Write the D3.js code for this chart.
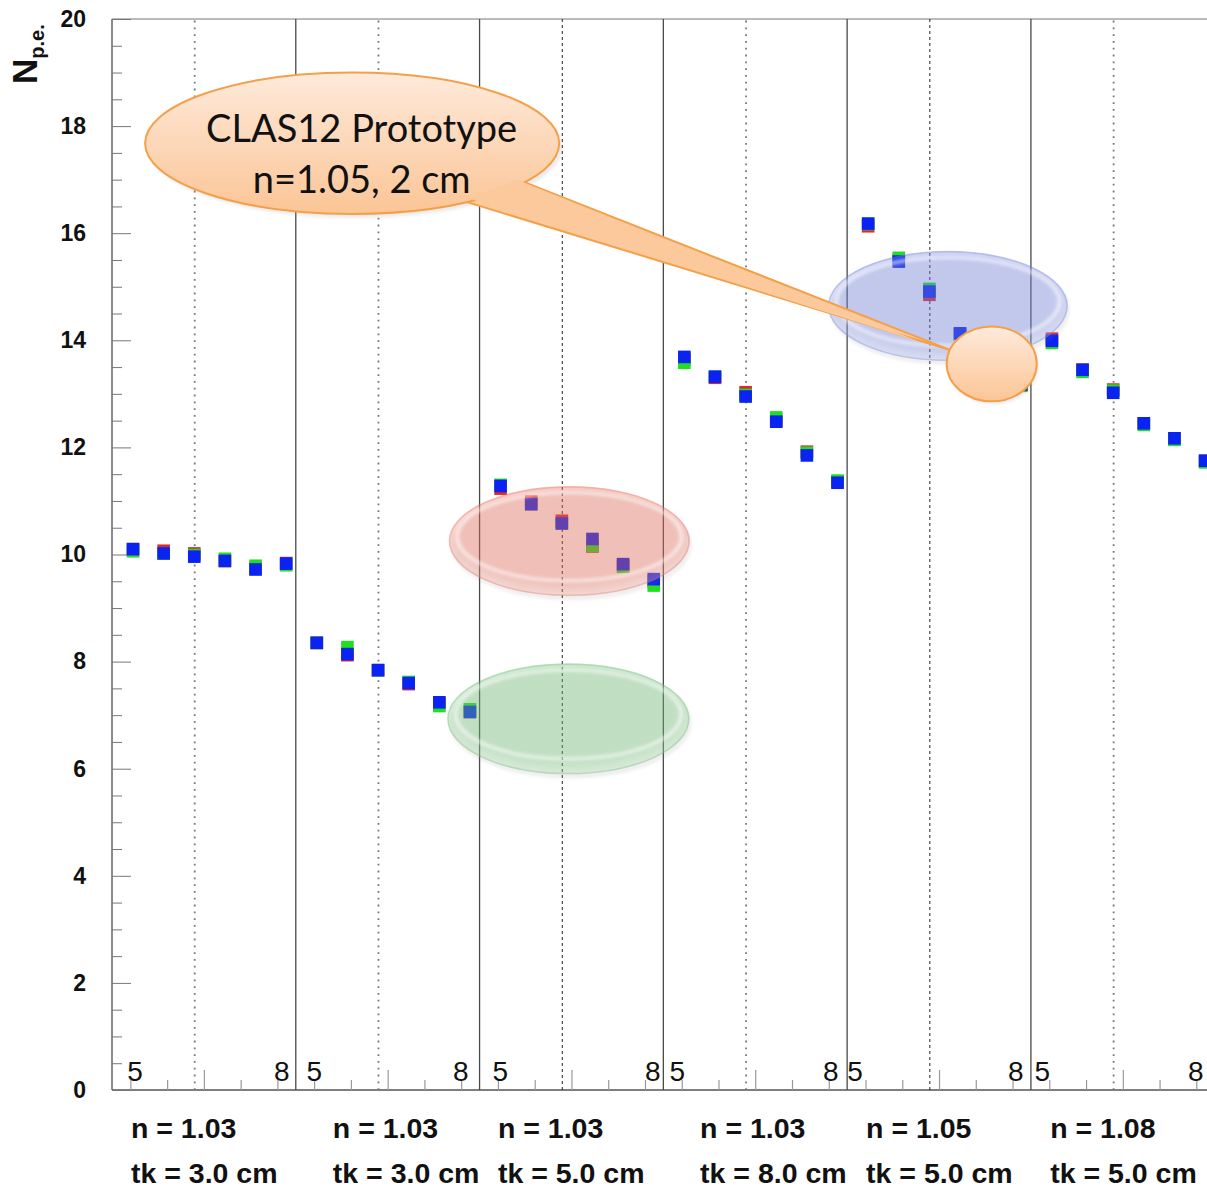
<!DOCTYPE html>
<html>
<head>
<meta charset="utf-8">
<script src="https://cdn.jsdelivr.net/npm/d3@7"></script>
<style>
  body { margin: 0; background: #fff; }
  svg { display: block; }
  .num { font-family: "Liberation Sans", Arial, sans-serif; }
</style>
</head>
<body>
<svg id="chart"></svg>
<script>
// panel captions (refractive index, thickness) and bin edge labels
const nLabels = ["n = 1.03", "n = 1.03", "n = 1.03", "n = 1.03", "n = 1.05", "n = 1.08"];
const tkLabels = ["tk = 3.0 cm", "tk = 3.0 cm", "tk = 5.0 cm", "tk = 8.0 cm", "tk = 5.0 cm", "tk = 5.0 cm"];
const binFirst = "5";
const binLast = "8";
const yTicks = [0, 2, 4, 6, 8, 10, 12, 14, 16, 18, 20];

// N p.e. per point, 6 points per panel
const redValues = [
  10.10, 10.07, 10.02, 9.88, 9.74, 9.84,
  8.35, 8.12, 7.84, 7.58, 7.22, 7.06,
  11.23, 10.99, 10.63, 10.15, 9.80, 9.50,
  13.65, 13.30, 13.03, 12.50, 11.92, 11.36,
  16.13, 15.50, 14.85, 14.12, 13.65, 13.17,
  14.03, 13.45, 13.08, 12.45, 12.17, 11.75
];
const greenValues = [
  10.06, 10.02, 9.99, 9.92, 9.79, 9.80,
  8.35, 8.27, 7.84, 7.62, 7.17, 7.11,
  11.30, 10.94, 10.58, 10.16, 9.77, 9.42,
  13.58, 13.32, 12.98, 12.56, 11.90, 11.38,
  16.17, 15.54, 14.96, 14.12, 13.65, 13.15,
  13.95, 13.41, 13.06, 12.42, 12.14, 11.72
];
const blueValues = [
  10.10, 10.02, 9.96, 9.88, 9.72, 9.83,
  8.35, 8.14, 7.84, 7.60, 7.24, 7.06,
  11.28, 10.94, 10.58, 10.29, 9.82, 9.54,
  13.69, 13.32, 12.95, 12.48, 11.85, 11.34,
  16.18, 15.47, 14.91, 14.13, 13.65, 13.17,
  13.99, 13.45, 13.02, 12.45, 12.17, 11.75
];

// layout (axis units)
const perPanel = 6;
const pointOffset = 0.686;
const dottedOffset = 2.7;
const firstLabelX = [0.50, 6.35, 12.42, 18.20, 24.00, 30.12];
const lastLabelX = [5.80, 11.64, 17.91, 23.72, 29.76, 35.64];
const captionX = [0.62, 7.21, 12.60, 19.20, 24.62, 30.63];
const dottedStyle = ["grey", "grey", "dark", "grey", "dark", "grey"];

const width = 1207, height = 1190;
const svg = d3.select("#chart").attr("width", width).attr("height", height);

const x = d3.scaleLinear().domain([0, 36]).range([112, 1214.7]);
const y = d3.scaleLinear().domain([0, 20]).range([1090, 19]);

const defs = svg.append("defs");

// frame
const plot = svg.append("g");
plot.append("line").attr("x1", x(0)).attr("x2", width).attr("y1", y(20)).attr("y2", y(20))
  .attr("stroke", "#777").attr("stroke-width", 1);
plot.append("line").attr("x1", x(0)).attr("x2", width).attr("y1", y(0)).attr("y2", y(0))
  .attr("stroke", "#555").attr("stroke-width", 1.5);
plot.append("line").attr("x1", x(0)).attr("x2", x(0)).attr("y1", y(0)).attr("y2", y(20))
  .attr("stroke", "#666").attr("stroke-width", 1.5);

// panel separators
const panels = d3.range(nLabels.length);
plot.selectAll(".sep").data(panels.slice(1)).enter().append("line")
  .attr("x1", d => x(d * perPanel)).attr("x2", d => x(d * perPanel))
  .attr("y1", y(0)).attr("y2", y(20))
  .attr("stroke", "#4a4a4a").attr("stroke-width", 1.3);

// dotted middle lines
plot.selectAll(".dot").data(panels).enter().append("line")
  .attr("x1", d => x(d * perPanel + dottedOffset)).attr("x2", d => x(d * perPanel + dottedOffset))
  .attr("y1", y(0)).attr("y2", y(20))
  .attr("stroke", d => dottedStyle[d] === "dark" ? "#222" : "#777")
  .attr("stroke-width", d => dottedStyle[d] === "dark" ? 1 : 1.8)
  .attr("stroke-dasharray", d => dottedStyle[d] === "dark" ? "3,3" : "1.8,5");

// y axis: ticks inside the frame
const yMajor = d3.axisLeft(y).tickValues(yTicks).tickSize(-19).tickPadding(26).tickFormat(d3.format("d"));
const yMinor = d3.axisLeft(y).tickValues(d3.range(0, 20.01, 0.5).filter(v => v % 2 !== 0)).tickSize(-10).tickFormat("");
const gy = svg.append("g").attr("transform", `translate(${x(0)},0)`).call(yMajor);
svg.append("g").attr("transform", `translate(${x(0)},0)`).call(yMinor)
  .call(g => g.select(".domain").remove())
  .selectAll("line").attr("stroke", "#777");
gy.select(".domain").remove();
gy.selectAll("line").attr("stroke", "#777");
gy.selectAll("text").attr("class", "num").attr("font-size", 23).attr("font-weight", "bold").attr("fill", "#111");

// x axis ticks (no labels)
const xTickVals = d3.range(30).map(k => 0.6 + k * 1.2);
const xMajorVals = xTickVals.filter((v, k) => (k - 2) % 5 === 0);
const xMinorVals = xTickVals.filter((v, k) => (k - 2) % 5 !== 0);
svg.append("g").attr("transform", `translate(0,${y(0)})`)
  .call(d3.axisBottom(x).tickValues(xMinorVals).tickSize(-10).tickFormat(""))
  .call(g => g.select(".domain").remove())
  .selectAll("line").attr("stroke", "#999").attr("stroke-width", 1.2);
svg.append("g").attr("transform", `translate(0,${y(0)})`)
  .call(d3.axisBottom(x).tickValues(xMajorVals).tickSize(-20).tickFormat(""))
  .call(g => g.select(".domain").remove())
  .selectAll("line").attr("stroke", "#999").attr("stroke-width", 1.2);

// bin edge labels
const binG = svg.append("g");
binG.selectAll(".first").data(panels).enter().append("text").attr("class", "num")
  .attr("font-size", 28).attr("fill", "#111")
  .attr("x", d => x(firstLabelX[d])).attr("y", 1081).text(binFirst);
binG.selectAll(".last").data(panels).enter().append("text").attr("class", "num")
  .attr("font-size", 28).attr("fill", "#111")
  .attr("x", d => x(lastLabelX[d])).attr("y", 1081).attr("text-anchor", "end").text(binLast);

// panel captions
const capG = svg.append("g");
capG.selectAll(".n").data(panels).enter().append("text").attr("class", "num")
  .attr("font-size", 28.5).attr("font-weight", "bold").attr("fill", "#111")
  .attr("x", d => x(captionX[d])).attr("y", 1138).text(d => nLabels[d]);
capG.selectAll(".tk").data(panels).enter().append("text").attr("class", "num")
  .attr("font-size", 28.5).attr("font-weight", "bold").attr("fill", "#111")
  .attr("x", d => x(captionX[d])).attr("y", 1183).text(d => tkLabels[d]);

// y title
const title = svg.append("text").attr("class", "num").attr("font-weight", "bold").attr("fill", "#111")
  .attr("transform", "translate(37,84) rotate(-90)");
title.append("tspan").attr("font-size", 35).text("N");
title.append("tspan").attr("font-size", 20).attr("dy", 7).text("p.e.");

// data squares
const sq = 12.6;
const series = [
  { values: redValues, color: "#e3262b" },
  { values: greenValues, color: "#1fe01f" },
  { values: blueValues, color: "#0a22f2" }
];
const pointX = i => x(Math.floor(i / perPanel) * perPanel + pointOffset + (i % perPanel));
series.forEach(s => {
  svg.append("g").selectAll("rect").data(s.values).enter().append("rect")
    .attr("x", (d, i) => pointX(i) - sq / 2)
    .attr("y", d => y(d) - sq / 2)
    .attr("width", sq).attr("height", sq)
    .attr("fill", s.color);
});

// glassy highlight ellipses (axis units)
const glass = [
  { cx: 27.29, cy: 14.64, rx: 3.92, ry: 1.03, base: "#6b7de6", light: "#b8c2f4", edge: "#5c6ad0" },
  { cx: 14.93, cy: 10.25, rx: 3.94, ry: 1.03, base: "#f0614d", light: "#f8b0a4", edge: "#d85a4c" },
  { cx: 14.90, cy: 6.93, rx: 3.96, ry: 1.04, base: "#66c06b", light: "#b2e2b4", edge: "#5aa85e" }
];
const blur = defs.append("filter").attr("id", "soft").attr("x", "-20%").attr("y", "-20%").attr("width", "140%").attr("height", "140%");
blur.append("feGaussianBlur").attr("stdDeviation", 1.6);

glass.forEach((e, k) => {
  const gid = "glass" + k;
  const grad = defs.append("radialGradient").attr("id", gid).attr("cx", "50%").attr("cy", "45%").attr("r", "55%");
  grad.append("stop").attr("offset", "0%").attr("stop-color", e.base);
  grad.append("stop").attr("offset", "78%").attr("stop-color", e.base);
  grad.append("stop").attr("offset", "100%").attr("stop-color", e.light);
  const cx = x(e.cx), cy = y(e.cy), rx = x(e.cx + e.rx) - cx, ry = y(e.cy - e.ry) - cy;
  const g = svg.append("g");
  g.append("ellipse").attr("cx", cx + 2).attr("cy", cy + 4).attr("rx", rx).attr("ry", ry)
    .attr("fill", "#888").attr("opacity", 0.13).attr("filter", "url(#soft)");
  g.append("ellipse").attr("cx", cx).attr("cy", cy).attr("rx", rx).attr("ry", ry)
    .attr("fill", `url(#${gid})`).attr("opacity", 0.34);
  g.append("ellipse").attr("cx", cx).attr("cy", cy - ry * 0.08).attr("rx", rx * 0.93).attr("ry", ry * 0.8)
    .attr("fill", "none").attr("stroke", "#fff").attr("stroke-width", 4).attr("opacity", 0.5)
    .attr("filter", "url(#soft)");
  g.append("ellipse").attr("cx", cx).attr("cy", cy).attr("rx", rx - 1).attr("ry", ry - 1)
    .attr("fill", "none").attr("stroke", e.edge).attr("stroke-width", 1.5).attr("opacity", 0.25);
});

// callout bubble
const peach = defs.append("linearGradient").attr("id", "peach").attr("x1", 0).attr("y1", 0).attr("x2", 0).attr("y2", 1);
peach.append("stop").attr("offset", "0%").attr("stop-color", "#feeadb");
peach.append("stop").attr("offset", "100%").attr("stop-color", "#fbc596");

const bubble = { cx: 7.84, cy: 17.68, rx: 6.76, ry: 1.32 };
const knob = { cx: 28.72, cy: 13.56, rx: 1.47, ry: 0.70 };
const tailA = { x: 13.42, y: 16.96 };
const tailB = { x: 11.54, y: 16.59 };
const tailTip = { x: 27.36, y: 13.82 };

const bx = x(bubble.cx), by = y(bubble.cy);
const brx = x(bubble.cx + bubble.rx) - bx, bry = y(bubble.cy - bubble.ry) - by;
const ca = svg.append("g");
ca.append("ellipse").attr("cx", bx + 3).attr("cy", by + 4).attr("rx", brx).attr("ry", bry)
  .attr("fill", "#999").attr("opacity", 0.2).attr("filter", "url(#soft)");
ca.append("path")
  .attr("d", `M${x(tailA.x)},${y(tailA.y)} L${x(tailTip.x)},${y(tailTip.y)} L${x(tailB.x)},${y(tailB.y)} Z`)
  .attr("fill", "#fbc99c").attr("stroke", "#f4a049").attr("stroke-width", 2).attr("stroke-linejoin", "round");
ca.append("ellipse").attr("cx", bx).attr("cy", by).attr("rx", brx).attr("ry", bry)
  .attr("fill", "url(#peach)").attr("stroke", "#f4a049").attr("stroke-width", 2);
// cover the joint so the tail merges into the bubble
ca.append("path")
  .attr("d", `M${x(tailA.x) - 6},${y(tailA.y) - 2} L${x(tailTip.x) - 30},${y(tailTip.y) - 8} L${x(tailB.x) + 4},${y(tailB.y) - 3} Z`)
  .attr("fill", "#fbc99c");

const kx = x(knob.cx), ky = y(knob.cy);
const krx = x(knob.cx + knob.rx) - kx, kry = y(knob.cy - knob.ry) - ky;
ca.append("ellipse").attr("cx", kx + 2).attr("cy", ky + 3).attr("rx", krx).attr("ry", kry)
  .attr("fill", "#999").attr("opacity", 0.2).attr("filter", "url(#soft)");
ca.append("ellipse").attr("cx", kx).attr("cy", ky).attr("rx", krx).attr("ry", kry)
  .attr("fill", "url(#peach)").attr("stroke", "#f4a049").attr("stroke-width", 2);

const ct = ca.append("text").attr("font-family", "Lato, 'Open Sans', sans-serif").attr("font-size", 38)
  .attr("text-anchor", "middle").attr("fill", "#111");
ct.append("tspan").attr("x", x(8.15)).attr("y", 142).text("CLAS12 Prototype");
ct.append("tspan").attr("x", x(8.15)).attr("y", 193).text("n=1.05, 2 cm");
</script>
</body>
</html>
